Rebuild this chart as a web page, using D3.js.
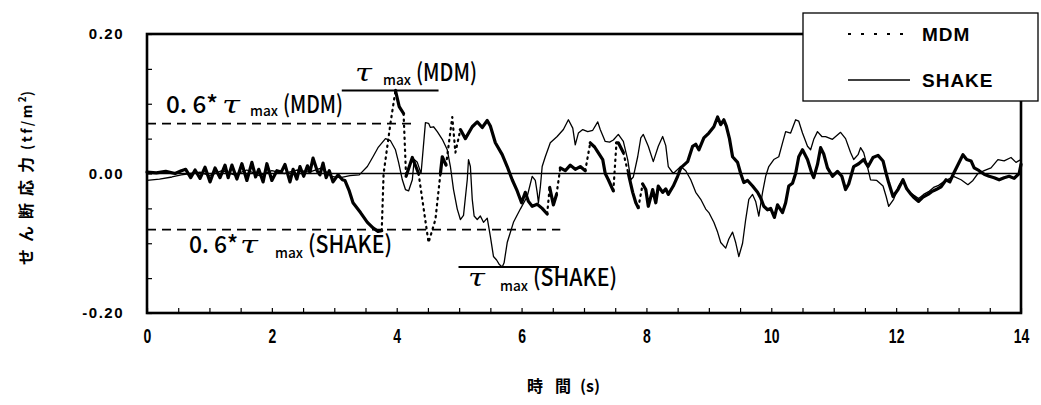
<!DOCTYPE html>
<html><head><meta charset="utf-8">
<script src="https://cdn.jsdelivr.net/npm/d3@7"></script>
<style>body{margin:0;background:#fff} svg{display:block}</style>
</head><body><svg id="c" width="1041" height="405"></svg>
<script>
// ---------- data ----------
const mdmData = [
[0.00,0.002],[0.15,0.001],[0.30,0.003],[0.45,0.000],[0.55,0.004],[0.62,0.006],[0.70,-0.006],[0.77,0.005],[0.85,-0.007],[0.93,0.009],
[1.01,-0.012],[1.09,0.008],[1.17,-0.006],[1.25,0.012],[1.30,-0.006],[1.36,0.012],[1.44,-0.008],[1.52,0.014],[1.60,-0.010],[1.68,0.016],
[1.74,-0.005],[1.79,0.006],[1.86,-0.012],[1.92,0.014],[2.00,-0.010],[2.08,0.004],[2.15,0.002],[2.21,0.013],[2.29,-0.012],[2.34,0.006],
[2.40,-0.008],[2.45,0.010],[2.51,-0.004],[2.57,0.011],[2.61,0.002],[2.66,0.022],[2.73,0.003],[2.77,-0.002],[2.82,0.015],[2.87,-0.006],
[2.92,0.004],[2.98,-0.012],[3.06,-0.002],[3.13,-0.009],[3.17,-0.010],[3.24,-0.025],[3.30,-0.042],[3.42,-0.056],[3.53,-0.070],[3.62,-0.078],
[3.70,-0.083],[3.76,-0.082],[3.79,0.000],[3.90,0.072],[3.98,0.119],[4.04,0.096],[4.11,0.086],[4.15,-0.004],[4.25,0.023],[4.35,0.000],
[4.51,-0.099],[4.62,-0.066],[4.70,0.000],[4.73,0.024],[4.79,0.012],[4.89,0.081],[4.94,0.030],[5.02,0.063],[5.10,0.050],[5.21,0.067],
[5.29,0.074],[5.37,0.066],[5.45,0.076],[5.50,0.068],[5.58,0.044],[5.69,0.027],[5.77,0.010],[5.85,-0.009],[5.93,-0.025],[6.00,-0.042],
[6.06,-0.027],[6.11,-0.040],[6.17,-0.047],[6.25,-0.044],[6.33,-0.050],[6.41,-0.058],[6.45,-0.020],[6.51,-0.045],[6.56,-0.030],[6.62,0.008],
[6.70,0.004],[6.78,0.012],[6.86,0.006],[6.94,0.010],[7.02,0.004],[7.10,0.044],[7.17,0.038],[7.22,0.031],[7.30,0.020],[7.34,0.000],
[7.39,-0.009],[7.47,-0.025],[7.52,0.044],[7.55,0.044],[7.63,0.030],[7.71,0.000],[7.78,-0.027],[7.83,-0.042],[7.87,-0.049],[7.94,-0.015],
[7.99,-0.023],[8.03,-0.047],[8.10,-0.023],[8.15,-0.042],[8.19,-0.018],[8.26,-0.027],[8.31,-0.022],[8.35,-0.030],[8.43,-0.018],[8.50,-0.004],
[8.55,0.008],[8.66,0.017],[8.74,0.039],[8.79,0.042],[8.84,0.034],[8.92,0.051],[9.00,0.058],[9.08,0.067],[9.14,0.081],[9.19,0.070],
[9.24,0.077],[9.28,0.068],[9.33,0.050],[9.38,0.024],[9.46,0.016],[9.51,0.000],[9.56,-0.013],[9.62,-0.010],[9.70,-0.018],[9.78,-0.027],
[9.83,-0.035],[9.88,-0.047],[9.94,-0.052],[9.99,-0.050],[10.05,-0.063],[10.10,-0.045],[10.18,-0.056],[10.23,-0.042],[10.28,-0.018],[10.34,-0.014],
[10.39,0.000],[10.44,0.024],[10.50,0.034],[10.58,0.020],[10.65,0.000],[10.68,-0.006],[10.74,0.013],[10.79,0.037],[10.84,0.028],[10.90,0.008],
[10.98,-0.004],[11.06,0.003],[11.13,-0.004],[11.19,-0.023],[11.24,-0.015],[11.32,0.010],[11.40,0.014],[11.48,0.020],[11.55,0.010],[11.63,0.023],
[11.71,0.026],[11.79,0.018],[11.84,0.000],[11.88,-0.013],[11.95,-0.033],[12.03,-0.023],[12.11,-0.009],[12.17,-0.022],[12.24,-0.030],[12.28,-0.034],
[12.36,-0.040],[12.43,-0.034],[12.51,-0.030],[12.57,-0.026],[12.64,-0.023],[12.72,-0.019],[12.80,-0.009],[12.86,-0.012],[12.92,0.000],[13.01,0.016],
[13.07,0.027],[13.13,0.020],[13.20,0.018],[13.25,0.008],[13.33,0.004],[13.41,-0.001],[13.49,-0.004],[13.57,-0.006],[13.65,-0.009],[13.73,-0.006],
[13.81,-0.004],[13.89,-0.007],[13.97,0.000],[14.00,0.013]
];
const shakeData = [
[0.00,-0.010],[0.20,-0.008],[0.40,-0.005],[0.55,-0.002],[0.70,0.000],[0.85,0.002],[1.00,-0.003],[1.20,0.004],[1.40,-0.002],[1.60,0.005],
[1.80,-0.003],[2.00,0.004],[2.20,0.000],[2.40,0.005],[2.60,0.002],[2.80,0.008],[2.95,-0.004],[3.10,-0.006],[3.25,-0.003],[3.40,-0.002],
[3.53,0.010],[3.62,0.024],[3.70,0.037],[3.82,0.050],[3.90,0.047],[3.98,0.034],[4.03,0.016],[4.09,-0.009],[4.14,-0.023],[4.19,-0.025],
[4.25,-0.009],[4.28,0.020],[4.33,0.016],[4.39,0.000],[4.46,0.073],[4.51,0.072],[4.54,0.066],[4.59,0.067],[4.65,0.060],[4.73,0.049],
[4.81,0.034],[4.86,0.010],[4.91,-0.023],[4.97,-0.051],[5.02,-0.066],[5.07,-0.060],[5.13,-0.009],[5.15,0.020],[5.18,0.010],[5.21,-0.037],
[5.24,-0.061],[5.29,-0.066],[5.34,-0.061],[5.39,-0.070],[5.45,-0.064],[5.50,-0.090],[5.55,-0.119],[5.60,-0.124],[5.64,-0.130],[5.69,-0.134],
[5.72,-0.128],[5.77,-0.099],[5.87,-0.070],[5.98,-0.051],[6.09,-0.033],[6.17,-0.004],[6.22,-0.010],[6.25,-0.027],[6.27,-0.042],[6.30,-0.020],
[6.33,0.010],[6.38,0.024],[6.46,0.044],[6.57,0.053],[6.67,0.063],[6.75,0.077],[6.82,0.065],[6.86,0.041],[6.91,0.058],[6.98,0.063],
[7.06,0.060],[7.14,0.062],[7.22,0.074],[7.26,0.063],[7.34,0.046],[7.41,0.045],[7.47,0.048],[7.55,0.056],[7.63,0.046],[7.70,0.020],
[7.75,-0.009],[7.79,-0.005],[7.86,0.024],[7.91,0.051],[7.95,0.056],[8.03,0.039],[8.11,0.017],[8.19,0.039],[8.26,0.053],[8.31,0.040],
[8.35,0.010],[8.43,0.000],[8.55,0.010],[8.63,0.004],[8.71,-0.009],[8.79,-0.027],[8.87,-0.037],[8.95,-0.051],[9.00,-0.056],[9.08,-0.070],
[9.14,-0.084],[9.19,-0.099],[9.27,-0.107],[9.32,-0.094],[9.38,-0.084],[9.43,-0.099],[9.48,-0.119],[9.54,-0.100],[9.59,-0.066],[9.64,-0.037],
[9.70,-0.030],[9.75,-0.040],[9.80,-0.061],[9.86,-0.027],[9.91,-0.004],[9.96,0.010],[10.04,0.020],[10.12,0.024],[10.18,0.044],[10.23,0.060],
[10.31,0.058],[10.39,0.077],[10.44,0.075],[10.50,0.058],[10.58,0.039],[10.63,0.034],[10.68,0.049],[10.74,0.060],[10.81,0.053],[10.87,0.053],
[10.98,0.049],[11.11,0.059],[11.19,0.050],[11.27,0.030],[11.32,0.020],[11.39,0.027],[11.43,0.037],[11.48,0.030],[11.55,0.006],[11.59,-0.009],
[11.69,-0.010],[11.79,-0.018],[11.84,-0.033],[11.88,-0.047],[11.96,-0.037],[12.04,-0.018],[12.11,-0.008],[12.15,-0.018],[12.22,-0.027],[12.28,-0.031],
[12.36,-0.036],[12.44,-0.030],[12.52,-0.026],[12.60,-0.020],[12.68,-0.017],[12.76,-0.012],[12.84,-0.008],[12.92,-0.004],[13.04,-0.009],[13.15,-0.016],
[13.23,-0.010],[13.31,0.000],[13.41,0.004],[13.52,0.008],[13.63,0.020],[13.73,0.018],[13.84,0.023],[13.92,0.016],[14.00,0.020]
];
const seriesNames = ["MDM", "SHAKE"];
const xMajorTicks = [0, 2, 4, 6, 8, 10, 12, 14];
const xMinorTicks = d3.range(0, 14.001, 0.5);
const yMajorTicks = [-0.2, 0, 0.2];
const yMinorTicks = d3.range(-0.2, 0.2001, 0.05);
const tauMaxValues = [0.119, -0.134];      // MDM, SHAKE
const tauRatio = 0.6;
const refDashEnds = [4.30, 6.62];          // end time of the 0.6*tau dashed lines
const tauLineSpans = [[3.12, 4.67], [4.99, 6.60]];
const xAxisTitle = ["時", "間", "(s)"];
const yAxisTitle = "せん断応力";

// ---------- setup ----------
const svg = d3.select("#c");
const x = d3.scaleLinear().domain([0, 14]).range([147, 1021]);
const y = d3.scaleLinear().domain([-0.2, 0.2]).range([313, 34]);
const line = d3.line().x(d => x(d[0])).y(d => y(d[1]));
const BOLD = "'Liberation Sans', Arial, sans-serif";
const JP = "'Noto Sans CJK JP', sans-serif";
const GREEK = "'DejaVu Serif', serif";

// zero line
svg.append("line").attr("x1", x(0)).attr("x2", x(14)).attr("y1", y(0)).attr("y2", y(0))
  .attr("stroke", "#000").attr("stroke-width", 1.3);

// minor ticks
svg.append("g").attr("transform", `translate(0,${y(-0.2)})`)
  .call(d3.axisBottom(x).tickValues(xMinorTicks).tickSize(-5).tickFormat(""))
  .call(g => g.select(".domain").remove())
  .selectAll("line").attr("stroke-width", 1.2);
svg.append("g").attr("transform", `translate(${x(0)},0)`)
  .call(d3.axisLeft(y).tickValues(yMinorTicks).tickSize(-5).tickFormat(""))
  .call(g => g.select(".domain").remove())
  .selectAll("line").attr("stroke-width", 1.2);

// major labels
const gx = svg.append("g").attr("transform", `translate(0,${y(-0.2)})`)
  .call(d3.axisBottom(x).tickValues(xMajorTicks).tickSize(0).tickPadding(16).tickFormat(d => String(d)));
gx.select(".domain").remove();
gx.selectAll("text").attr("font-family", BOLD).attr("font-weight", "bold").attr("font-size", 20)
  .attr("fill", "#000").attr("transform", "scale(0.7,1)");
const gy = svg.append("g").attr("transform", `translate(${x(0)},0)`)
  .call(d3.axisLeft(y).tickValues(yMajorTicks).tickSize(0).tickPadding(23).tickFormat(d => d.toFixed(2)));
gy.select(".domain").remove();
gy.selectAll("text").attr("font-family", BOLD).attr("font-weight", "bold").attr("font-size", 15)
  .attr("letter-spacing", 1.5).attr("fill", "#000");

// frame
svg.append("rect").attr("x", x(0)).attr("y", y(0.2)).attr("width", x(14) - x(0)).attr("height", y(-0.2) - y(0.2))
  .attr("fill", "none").attr("stroke", "#000").attr("stroke-width", 2.6);

// reference dashed lines 0.6*tau_max and tau_max marker lines
tauMaxValues.forEach((tv, i) => {
  svg.append("line").attr("x1", x(0)).attr("x2", x(refDashEnds[i]))
    .attr("y1", y(tv * tauRatio)).attr("y2", y(tv * tauRatio))
    .attr("stroke", "#000").attr("stroke-width", 1.8).attr("stroke-dasharray", "9,6");
  svg.append("line").attr("x1", x(tauLineSpans[i][0])).attr("x2", x(tauLineSpans[i][1]))
    .attr("y1", y(tv)).attr("y2", y(tv))
    .attr("stroke", "#000").attr("stroke-width", 2);
});

// SHAKE thin line
svg.append("path").datum(shakeData).attr("d", line)
  .attr("fill", "none").attr("stroke", "#000").attr("stroke-width", 1.3).attr("stroke-linejoin", "round");

// MDM: thick where slow, dotted where steep
const runs = [];
for (let i = 0; i < mdmData.length - 1; i++) {
  const a = mdmData[i], b = mdmData[i + 1];
  const dx = Math.abs(x(b[0]) - x(a[0])), dy = Math.abs(y(b[1]) - y(a[1]));
  const steep = dy > 20 && dy > 3 * dx;
  const last = runs[runs.length - 1];
  if (last && last.steep === steep) last.pts.push(b);
  else runs.push({steep, pts: [a, b]});
}
runs.forEach(r => {
  const p = svg.append("path").datum(r.pts).attr("d", line).attr("fill", "none").attr("stroke", "#000")
    .attr("stroke-linejoin", "round").attr("stroke-linecap", "round");
  if (r.steep) p.attr("stroke-width", 2.2).attr("stroke-dasharray", "1.5,4.5");
  else p.attr("stroke-width", 3.2);
});

// annotation labels
function label(pieces) {
  pieces.forEach(p => {
    const t = svg.append("text").attr("x", p.x).attr("y", p.y).attr("font-family", p.f || JP).attr("font-size", p.s)
      .attr("font-weight", p.wt || 500)
      .attr("textLength", p.w).attr("lengthAdjust", "spacingAndGlyphs").attr("fill", "#000").text(p.t);
    if (p.i) t.attr("font-style", "italic");
  });
}
label([{t:"0. 6*", x:166, y:113, s:24, w:52}, {t:"τ", x:222, y:113, s:24, w:18, f:GREEK, i:1, wt:400},
       {t:"max", x:250, y:116, s:14, w:28}, {t:"(MDM)", x:283, y:113, s:24, w:60}]);
label([{t:"τ", x:355, y:81, s:24, w:17, f:GREEK, i:1, wt:400}, {t:"max", x:383, y:85, s:14, w:28}, {t:"(MDM)", x:416, y:81, s:24, w:61}]);
label([{t:"0. 6*", x:189, y:253, s:24, w:49}, {t:"τ", x:240, y:253, s:24, w:18, f:GREEK, i:1, wt:400},
       {t:"max", x:275, y:258, s:14, w:28}, {t:"(SHAKE)", x:308, y:253, s:24, w:84}]);
label([{t:"τ", x:468, y:286, s:24, w:17, f:GREEK, i:1, wt:400}, {t:"max", x:500, y:291, s:14, w:28}, {t:"(SHAKE)", x:533, y:286, s:24, w:84}]);

// axis titles
const yt = svg.append("text").attr("transform", "translate(32,265) rotate(-90)")
  .attr("font-family", JP).attr("font-weight", "bold").attr("fill", "#000");
yt.append("tspan").attr("font-size", 16).attr("letter-spacing", 7).text(yAxisTitle);
yt.append("tspan").attr("font-size", 14).attr("letter-spacing", 2.5).text("(tf/m");
yt.append("tspan").attr("font-size", 10).attr("dy", -6).text("2");
yt.append("tspan").attr("font-size", 14).attr("dy", 6).text(")");

const xtPos = [527, 555, 580];
xAxisTitle.forEach((t, i) => {
  svg.append("text").attr("x", xtPos[i]).attr("y", 392).attr("font-family", JP).attr("font-weight", "bold")
    .attr("font-size", 16).attr("fill", "#000").text(t);
});

// legend
svg.append("rect").attr("x", 803).attr("y", 13).attr("width", 235).attr("height", 88)
  .attr("fill", "#fff").attr("stroke", "#000").attr("stroke-width", 1.3);
const legY = [34, 80];
seriesNames.forEach((name, i) => {
  const l = svg.append("line").attr("x1", 848).attr("x2", 910).attr("y1", legY[i]).attr("y2", legY[i]).attr("stroke", "#000");
  if (i === 0) l.attr("stroke-width", 2).attr("stroke-dasharray", "3,10");
  else l.attr("stroke-width", 1.5);
  svg.append("text").attr("x", 922).attr("y", legY[i] + 7).attr("font-family", BOLD).attr("font-weight", "bold")
    .attr("font-size", 19).attr("letter-spacing", 1).attr("fill", "#000").text(name);
});
</script></body></html>
